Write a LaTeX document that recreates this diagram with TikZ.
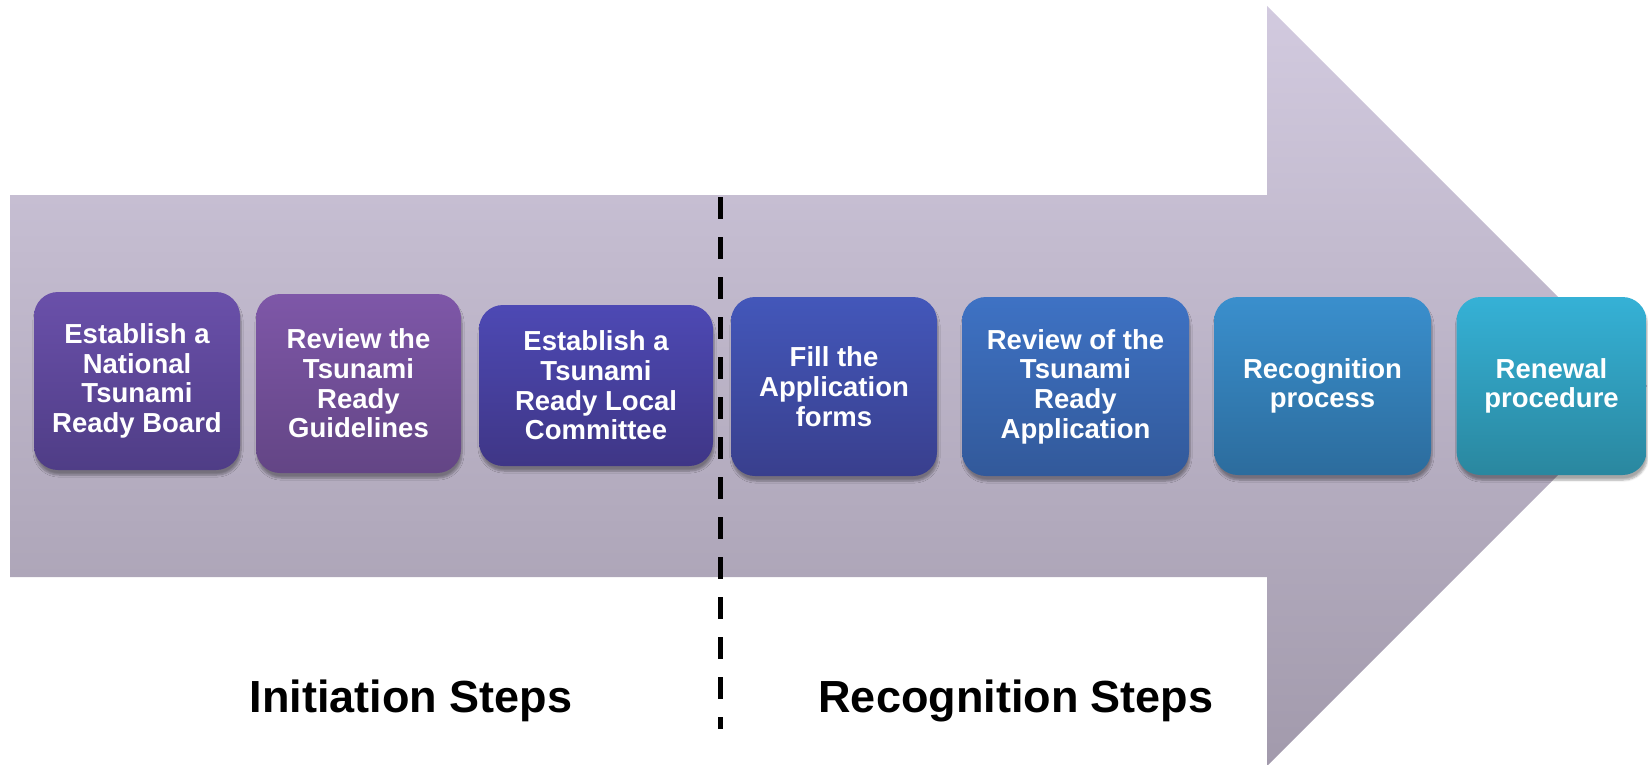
\documentclass[tikz,border=0pt]{standalone}
\usepackage{fontspec}
\setmainfont{Liberation Sans}
\usetikzlibrary{shadows.blur}
\definecolor{arrtop}{HTML}{D2CADF}
\definecolor{arrbot}{HTML}{A29AAC}
\definecolor{aT}{HTML}{6A50AA}\definecolor{aB}{HTML}{4F3D86}
\definecolor{bT}{HTML}{7E57A8}\definecolor{bB}{HTML}{634585}
\definecolor{cT}{HTML}{4D49B4}\definecolor{cB}{HTML}{3F3686}
\definecolor{dT}{HTML}{4357BA}\definecolor{dB}{HTML}{393F8D}
\definecolor{eT}{HTML}{3E72C4}\definecolor{eB}{HTML}{32599A}
\definecolor{fT}{HTML}{3A8FCD}\definecolor{fB}{HTML}{2C6C9D}
\definecolor{gT}{HTML}{35B1D6}\definecolor{gB}{HTML}{2A879F}
\tikzset{
  stepbox/.style={rounded corners=24pt, inner sep=0pt, align=center, text=white,
    font=\fontsize{27.5}{29.7}\selectfont\bfseries,
    blur shadow={shadow xshift=1pt, shadow yshift=-5pt, shadow blur steps=6, shadow opacity=35}},
  phase/.style={anchor=base, font=\fontsize{45}{50}\selectfont\bfseries, text=black}
}
\begin{document}
\begin{tikzpicture}[x=1pt,y=-1pt]
\useasboundingbox (0,0) rectangle (1648,765);
% big arrow
\path[top color=arrtop, bottom color=arrbot]
  (10,195) -- (1267,195) -- (1267,6) -- (1647,386) -- (1267,766) -- (1267,577) -- (10,577) -- cycle;
% dashed divider
\coordinate (dtop) at (720,197);
\coordinate (dbot) at (720,729);
\draw[line width=5pt, dash pattern=on 22pt off 18pt] (dtop) -- (dbot);
% step boxes
\node[stepbox, top color=aT, bottom color=aB, minimum width=206pt, minimum height=178pt] (s1) at (137,381)
  {Establish a\\National\\Tsunami\\Ready Board};
\node[stepbox, top color=bT, bottom color=bB, minimum width=205pt, minimum height=179pt] (s2) at (358.5,383.5)
  {Review the\\Tsunami\\Ready\\Guidelines};
\node[stepbox, top color=cT, bottom color=cB, minimum width=234pt, minimum height=161pt] (s3) at (596,385.5)
  {Establish a\\Tsunami\\Ready Local\\Committee};
\node[stepbox, top color=dT, bottom color=dB, minimum width=206pt, minimum height=179pt] (s4) at (834,386.5)
  {Fill the\\Application\\forms};
\node[stepbox, top color=eT, bottom color=eB, minimum width=227pt, minimum height=179pt] (s5) at (1075.5,386.5)
  {Review of the\\Tsunami\\Ready\\Application};
\node[stepbox, top color=fT, bottom color=fB, minimum width=217pt, minimum height=178pt] (s6) at (1322.5,386)
  {Recognition\\process};
\node[stepbox, top color=gT, bottom color=gB, minimum width=190pt, minimum height=178pt] (s7) at (1551.5,386)
  {Renewal\\procedure};
% phase labels
\node[phase] (ini) at (411,712) {Initiation Steps};
\node[phase] (rec) at (1016,712) {Recognition Steps};
\end{tikzpicture}
\end{document}
